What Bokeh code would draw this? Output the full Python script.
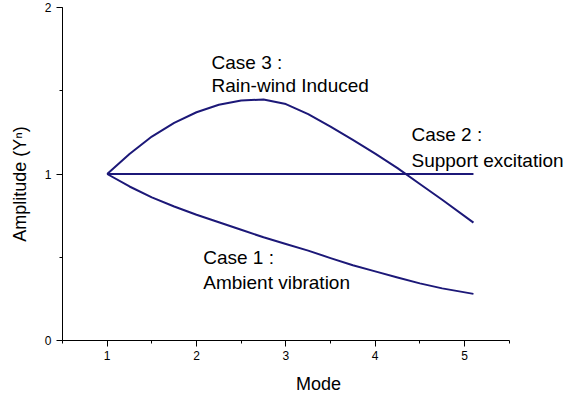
from bokeh.plotting import figure
from bokeh.models import Range1d, SingleIntervalTicker, Label
from bokeh.embed import file_html
from bokeh.resources import INLINE

# Normalised modal amplitude against mode number for three excitation cases
mode_c1 = [1.0, 1.25, 1.5, 1.75, 2.0, 2.25, 2.5, 2.75, 3.0, 3.25, 3.5, 3.75, 4.0, 4.25, 4.5, 4.75, 5.1]
amp_c1 = [1.0, 0.925, 0.86, 0.805, 0.755, 0.71, 0.665, 0.62, 0.58, 0.54, 0.495, 0.452, 0.415, 0.378, 0.343, 0.313, 0.28]

mode_c2 = [1.0, 5.1]
amp_c2 = [1.0, 1.0]

mode_c3 = [1.0, 1.25, 1.5, 1.75, 2.0, 2.25, 2.5, 2.75, 3.0, 3.25, 3.5, 3.75, 4.0, 4.25, 4.5, 4.75, 5.1]
amp_c3 = [1.0, 1.12, 1.225, 1.307, 1.371, 1.416, 1.442, 1.447, 1.42, 1.36, 1.285, 1.205, 1.122, 1.035, 0.94, 0.845, 0.708]

case_labels = [
    ("Case 1 :", "Ambient vibration"),
    ("Case 2 :", "Support excitation"),
    ("Case 3 :", "Rain-wind Induced"),
]

FONT = "Liberation Sans"
LINE = "#1c1878"

# the frame runs to the right edge so the annotations are not clipped;
# the x axis itself is bounded to 0.5 .. 5.5
p = figure(width=574, height=398, output_backend="svg", toolbar_location=None,
           x_range=Range1d(0.5, 6.231), y_range=Range1d(0, 2),
           min_border_left=62, min_border_right=0, min_border_top=7, min_border_bottom=58)
p.outline_line_color = None
p.grid.visible = False
p.background_fill_color = "white"
p.border_fill_color = "white"

p.xaxis.ticker = SingleIntervalTicker(interval=1, num_minor_ticks=2)
p.yaxis.ticker = SingleIntervalTicker(interval=1, num_minor_ticks=2)
p.xaxis.bounds = (0.5, 5.5)

for ax in (p.xaxis[0], p.yaxis[0]):
    ax.axis_line_color = "black"
    ax.axis_line_width = 1
    ax.major_tick_line_color = "black"
    ax.minor_tick_line_color = "black"
    ax.major_tick_in = 0
    ax.major_tick_out = 6
    ax.minor_tick_in = 0
    ax.minor_tick_out = 3
    ax.major_label_text_font = FONT
    ax.major_label_text_font_size = "12px"
    ax.major_label_text_color = "black"
    ax.axis_label_text_font = FONT
    ax.axis_label_text_font_size = "18px"
    ax.axis_label_text_font_style = "normal"
    ax.axis_label_text_color = "black"

p.xaxis.axis_label = "Mode"
p.xaxis.major_label_standoff = 4
p.xaxis.axis_label_standoff = 11

p.yaxis.axis_label = "Amplitude (Y\u207f)" + "\u00a0" * 4
p.yaxis.major_label_standoff = 5
p.yaxis.axis_label_standoff = 12

for xs, ys in ((mode_c1, amp_c1), (mode_c2, amp_c2), (mode_c3, amp_c3)):
    p.line(xs, ys, line_color=LINE, line_width=2, line_join="round")

# two-line case annotations (left edge, baseline of first and second line)
anchors = [(2.075, 0.498, 0.348), (4.406, 1.239, 1.081), (2.168, 1.670, 1.531)]
for (head, desc), (ax_, y1, y2) in zip(case_labels, anchors):
    for txt, yy in ((head, y1), (desc, y2)):
        p.add_layout(Label(x=ax_, y=yy, text=txt, text_font=FONT, text_font_size="19px",
                           text_color="black", text_baseline="alphabetic", text_align="left"))

open("out.html", "w").write(file_html(p, INLINE))
